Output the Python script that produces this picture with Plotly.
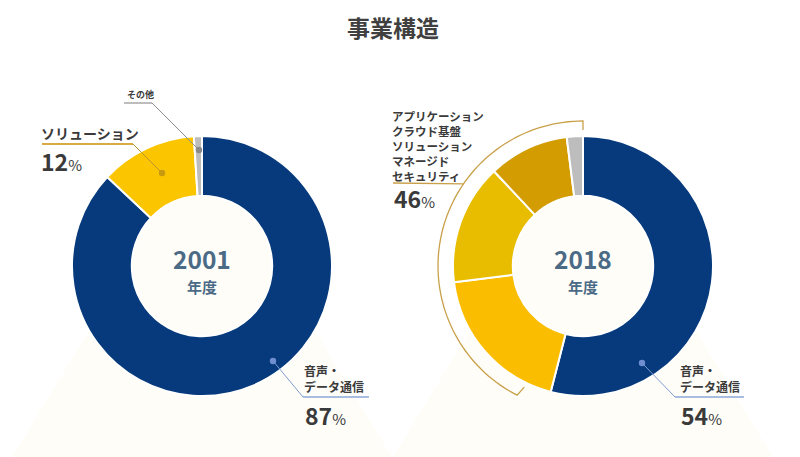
import numpy as np
import plotly.graph_objects as go

W, H = 800, 457
title = "事業構造"

cats_2001 = ["音声・データ通信", "ソリューション", "その他"]
vals_2001 = [87, 12, 1]
cols_2001 = ["#063a7c", "#fbc500", "#bdbdbd"]

cats_2018 = ["音声・データ通信", "アプリケーション・クラウド基盤", "ソリューション", "マネージド・セキュリティ", "その他"]
vals_2018 = [54, 19, 15, 10, 2]
cols_2018 = ["#063a7c", "#fbbd00", "#e8bd00", "#d39c00", "#bdbdbd"]

years = ["2001", "2018"]
pct_voice = ["87", "54"]
pct_sol_2001 = "12"
pct_new_2018 = "46"
label_voice = "音声・<br>データ通信"
label_new = "アプリケーション<br>クラウド基盤<br>ソリューション<br>マネージド<br>セキュリティ"

FONT = "Noto Sans CJK JP"


def X(px):
    return px / W


def Y(py):
    return 1 - py / H


cx1, cx2, cy, R, HOLE = 202, 583, 266, 130, 0.54

fig = go.Figure()


def dom(cx):
    return dict(x=[X(cx - R), X(cx + R)], y=[Y(cy + R), Y(cy - R)])


for cats, vals, cols, cx in [(cats_2001, vals_2001, cols_2001, cx1), (cats_2018, vals_2018, cols_2018, cx2)]:
    fig.add_trace(go.Pie(
        labels=cats, values=vals, sort=False, direction="clockwise", rotation=0,
        hole=HOLE, textinfo="none", hoverinfo="label+percent",
        marker=dict(colors=cols, line=dict(color="white", width=2)),
        domain=dom(cx), showlegend=False,
    ))

shapes = []
# faint beams in background
for cx in [cx1, cx2]:
    path = "M {},{} L {},{} L {},{} L {},{} Z".format(
        X(cx - 110), Y(cy + 60), X(cx + 110), Y(cy + 60), X(cx + 190), Y(H), X(cx - 190), Y(H))
    shapes.append(dict(type="path", path=path, xref="paper", yref="paper", layer="below",
                       fillcolor="#fefdf8", line=dict(width=0)))
    # hole fill
    r = R * HOLE
    shapes.append(dict(type="circle", xref="paper", yref="paper", layer="below",
                       x0=X(cx - r), x1=X(cx + r), y0=Y(cy + r), y1=Y(cy - r),
                       fillcolor="#fefdf8", line=dict(width=0)))


def line(pts, color, width):
    p = "M " + " L ".join("{:.5f},{:.5f}".format(X(a), Y(b)) for a, b in pts)
    shapes.append(dict(type="path", path=p, xref="paper", yref="paper",
                       line=dict(color=color, width=width)))


def dot(x, y, color, r=3.2):
    shapes.append(dict(type="circle", xref="paper", yref="paper",
                       x0=X(x - r), x1=X(x + r), y0=Y(y + r), y1=Y(y - r),
                       fillcolor=color, line=dict(width=0)))


# left: ソリューション
line([(42, 144), (133, 144)], "#d8ab45", 2)
line([(133, 144), (162, 173)], "#b8942e", 1)
dot(162, 173, "#c79a10")
# left: その他
line([(124, 103), (152, 103)], "#bdbdbd", 2)
line([(152, 103), (199, 150)], "#8c8c8c", 1)
dot(199, 150, "#8a8a8a")
# left voice
line([(303, 397), (369, 397)], "#a9bde0", 2)
line([(273, 361), (303, 397)], "#7f9bd0", 1)
dot(273, 361, "#6f8fd0")
# right voice
line([(675, 397), (744, 397)], "#a9bde0", 2)
line([(642, 363), (675, 397)], "#7f9bd0", 1)
dot(642, 363, "#6f8fd0")

# right bracket arc
ra = 145
angs = np.radians(np.linspace(360, 207, 80))
arc = [(cx2 + ra * np.sin(a), cy - ra * np.cos(a)) for a in angs]
line([(cx2 + (ra - 9) * np.sin(angs[0]), cy - (ra - 9) * np.cos(angs[0]))] + arc +
     [(cx2 + (ra - 9) * np.sin(angs[-1]) + 3, cy - (ra - 9) * np.cos(angs[-1]))], "#c9a04a", 1.3)
line([(393, 183), (cx2 + ra * np.sin(np.radians(304.5)), cy - ra * np.cos(np.radians(304.5)))], "#c9a04a", 1.3)

ann = []


def text(x, y, s, size, color="#3a3a3a", anchor="left", yanchor="middle"):
    ann.append(dict(x=X(x), y=Y(y), xref="paper", yref="paper", showarrow=False,
                    xanchor=anchor, yanchor=yanchor, align=anchor if anchor != "center" else "center",
                    text="<b>" + s + "</b>", borderpad=0,
                    font=dict(family=FONT, size=size, color=color)))


def pct(x, y, num):
    ann.append(dict(x=X(x), y=Y(y), xref="paper", yref="paper", showarrow=False,
                    xanchor="left", yanchor="middle", borderpad=0,
                    text="<b>" + num + "</b><span style='font-size:15px'>%</span>",
                    font=dict(family=FONT, size=23, color="#3a3a3a")))


text(393, 27, title, 23, "#404040", anchor="center")
text(cx1, 258, years[0], 24.5, "#4b6a86", anchor="center")
text(cx1, 286, "年度", 15, "#4b6a86", anchor="center")
text(cx2, 258, years[1], 24.5, "#4b6a86", anchor="center")
text(cx2, 286, "年度", 15, "#4b6a86", anchor="center")

text(40, 133, "ソリューション", 14)
pct(40, 161, pct_sol_2001)
text(126, 95, "その他", 9)

text(303, 378, label_voice, 12)
pct(304, 415, pct_voice[0])

text(679, 378, label_voice, 12)
pct(680, 415, pct_voice[1])

text(391, 146, label_new, 11.5)
pct(393, 198, pct_new_2018)

fig.update_layout(
    width=W, height=H, margin=dict(l=0, r=0, t=0, b=0),
    paper_bgcolor="white", plot_bgcolor="white",
    shapes=shapes, annotations=ann, showlegend=False,
)
fig.write_html("out.html", config={"displayModeBar": False},
               post_script="document.body.style.margin='0';document.body.style.padding='0';")
